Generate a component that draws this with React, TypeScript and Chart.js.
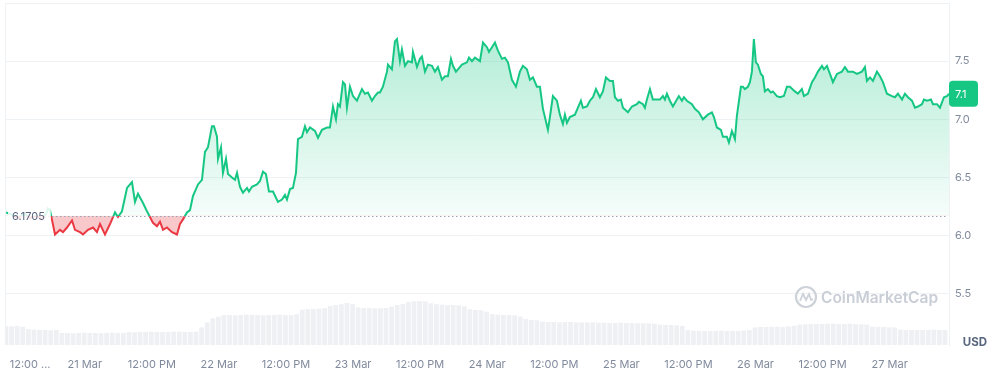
import React, { useEffect, useRef } from 'react';
import { Chart, registerables } from 'chart.js';
Chart.register(...registerables);

// ---- data ----
const basePrice = 6.1705;
const lastPriceLabel = '7.1';
const currency = 'USD';
const watermark = 'CoinMarketCap';

// hours since start of the 7-day window (20 Mar ~09:55)
const hoursSinceStart = [
  0, 1.07, 2.15, 3.22, 4.29, 5.37, 6.44, 7.16, 7.51, 7.87,
  8.77, 9.66, 10.2, 10.91, 11.81, 12.34, 13.24, 13.78, 14.67, 15.57,
  16.28, 16.82, 17.71, 18.61, 19.14, 19.5, 20.04, 20.75, 21.65, 22.54,
  23.08, 23.61, 24.51, 25.22, 25.76, 26.3, 27.01, 27.55, 28.09, 28.8,
  29.7, 30.59, 31.13, 31.67, 32.38, 32.92, 33.45, 34.35, 35.06, 35.6,
  36.14, 36.85, 37.21, 37.75, 37.93, 38.47, 38.82, 39.36, 39.72, 40.43,
  40.97, 41.33, 41.86, 42.4, 43.12, 43.47, 44.01, 44.9, 45.44, 45.98,
  46.51, 47.05, 47.77, 48.66, 49.38, 49.91, 50.27, 50.81, 51.34, 51.88,
  52.24, 52.95, 53.49, 53.85, 54.39, 55.28, 55.82, 56.53, 57.43, 57.96,
  58.5, 59.04, 59.39, 59.75, 60.29, 60.65, 61.0, 61.54, 62.08, 62.79,
  63.69, 64.22, 64.76, 65.48, 66.01, 66.55, 66.91, 67.44, 68.16, 68.34,
  69.05, 69.59, 69.95, 70.48, 70.84, 71.38, 71.92, 72.63, 72.81, 73.53,
  74.06, 74.42, 74.96, 75.5, 76.21, 76.75, 77.28, 78.0, 78.54, 79.07,
  79.61, 79.97, 80.5, 80.86, 81.58, 82.47, 82.83, 83.37, 83.9, 84.8,
  85.34, 86.05, 86.41, 86.95, 87.48, 88.02, 88.74, 89.27, 89.81, 90.52,
  91.24, 91.95, 92.49, 93.2, 93.74, 94.28, 94.99, 95.53, 96.07, 96.96,
  97.32, 97.85, 98.57, 99.1, 99.64, 100.0, 100.36, 100.89, 101.79, 102.33,
  102.86, 103.22, 103.94, 104.47, 105.01, 105.55, 106.26, 106.8, 107.34, 108.05,
  108.59, 108.95, 109.49, 110.02, 110.38, 111.27, 111.99, 112.88, 113.24, 113.96,
  114.31, 114.67, 115.21, 115.74, 116.46, 117.0, 117.53, 117.89, 118.25, 118.78,
  119.32, 120.04, 120.39, 120.93, 121.29, 121.82, 122.72, 123.26, 123.97, 124.69,
  125.58, 126.3, 126.66, 127.19, 127.91, 128.27, 128.98, 129.34, 129.88, 130.42,
  130.77, 131.49, 131.85, 132.2, 132.74, 133.1, 133.46, 133.81, 134.17, 134.53,
  135.06, 135.42, 135.78, 136.32, 136.85, 137.21, 137.93, 138.46, 139.18, 139.72,
  140.25, 141.15, 141.69, 142.4, 142.76, 143.48, 144.2, 144.73, 145.27, 145.99,
  146.34, 146.88, 147.42, 147.95, 148.67, 149.56, 150.1, 150.64, 151.53, 152.25,
  153.14, 153.68, 154.04, 154.58, 155.11, 155.83, 156.37, 156.9, 157.62, 158.52,
  159.05, 159.59, 160.31, 160.84, 161.38, 162.09, 162.63, 163.17, 163.88, 164.24,
  164.78, 165.49, 165.85, 166.57, 167.1, 167.82, 168.36, 168.72,
];

const prices = [
  6.20, 6.18, 6.15, 6.19, 6.15, 6.17, 6.14, 6.19, 6.23, 6.22,
  6.01, 6.05, 6.03, 6.07, 6.13, 6.05, 6.03, 6.01, 6.05, 6.07,
  6.03, 6.10, 6.01, 6.10, 6.16, 6.20, 6.16, 6.21, 6.41, 6.46,
  6.29, 6.36, 6.28, 6.21, 6.16, 6.11, 6.08, 6.12, 6.05, 6.07,
  6.03, 6.01, 6.10, 6.14, 6.20, 6.22, 6.34, 6.44, 6.48, 6.72,
  6.76, 6.94, 6.94, 6.85, 6.66, 6.76, 6.54, 6.66, 6.53, 6.50,
  6.48, 6.54, 6.42, 6.37, 6.41, 6.38, 6.42, 6.44, 6.47, 6.55,
  6.53, 6.38, 6.38, 6.29, 6.31, 6.35, 6.31, 6.40, 6.41, 6.54,
  6.83, 6.85, 6.94, 6.89, 6.93, 6.90, 6.84, 6.91, 6.93, 6.93,
  7.11, 7.00, 7.13, 7.11, 7.32, 7.30, 7.10, 7.28, 7.20, 7.16,
  7.26, 7.22, 7.23, 7.16, 7.20, 7.23, 7.23, 7.28, 7.41, 7.47,
  7.43, 7.67, 7.69, 7.50, 7.60, 7.46, 7.50, 7.49, 7.58, 7.45,
  7.52, 7.54, 7.41, 7.47, 7.46, 7.41, 7.45, 7.34, 7.37, 7.37,
  7.52, 7.46, 7.41, 7.43, 7.47, 7.49, 7.53, 7.50, 7.53, 7.50,
  7.66, 7.62, 7.58, 7.62, 7.66, 7.59, 7.52, 7.53, 7.49, 7.34,
  7.28, 7.41, 7.46, 7.43, 7.34, 7.36, 7.28, 7.28, 7.09, 6.91,
  7.02, 7.20, 7.16, 7.04, 6.96, 7.04, 6.97, 7.02, 7.04, 7.10,
  7.16, 7.10, 7.11, 7.16, 7.19, 7.26, 7.19, 7.24, 7.36, 7.33,
  7.33, 7.19, 7.16, 7.17, 7.10, 7.06, 7.11, 7.13, 7.15, 7.13,
  7.10, 7.17, 7.26, 7.17, 7.17, 7.17, 7.20, 7.17, 7.22, 7.16,
  7.11, 7.17, 7.20, 7.16, 7.19, 7.16, 7.13, 7.09, 7.06, 7.00,
  7.04, 7.06, 7.02, 6.93, 6.91, 6.85, 6.85, 6.80, 6.90, 6.83,
  7.03, 7.28, 7.28, 7.26, 7.28, 7.32, 7.41, 7.69, 7.49, 7.47,
  7.39, 7.37, 7.24, 7.26, 7.23, 7.24, 7.20, 7.19, 7.20, 7.28,
  7.28, 7.24, 7.22, 7.26, 7.20, 7.22, 7.32, 7.36, 7.41, 7.46,
  7.43, 7.46, 7.39, 7.32, 7.39, 7.41, 7.45, 7.41, 7.41, 7.39,
  7.41, 7.45, 7.33, 7.36, 7.33, 7.41, 7.37, 7.32, 7.22, 7.20,
  7.19, 7.22, 7.17, 7.22, 7.19, 7.16, 7.10, 7.11, 7.13, 7.17,
  7.16, 7.17, 7.13, 7.13, 7.10, 7.19, 7.20, 7.22,
];

// hourly volume (million USD), one value per hour from hour 0
const hourlyVolume = [
  114, 112, 115, 110,
  95, 92, 90, 90, 88, 90,
  72, 72, 70, 72, 74, 72, 72, 70, 72, 74, 72, 72,
  78, 76, 78, 78, 80, 78, 78, 78, 80, 80, 78, 78, 80,
  105, 135,
  160, 170,
  180, 180, 178, 180, 182, 180, 180, 178, 180, 180, 182, 180, 180, 184,
  212, 215, 216, 218, 220,
  235, 240, 245, 252, 245,
  225, 222, 222, 220, 220, 222, 230,
  240, 245,
  258, 262, 264, 262,
  250, 245, 242, 240, 240, 238, 232,
  215, 210, 208, 200,
  185, 182, 180, 180, 178, 170,
  155, 150, 148,
  140, 138, 138, 136, 138, 138, 136, 136, 135, 136,
  134, 134, 132, 132, 134, 132, 132, 130, 130, 130, 128,
  122, 120, 120, 118, 115,
  90, 86, 84, 84, 84, 84, 86, 84, 84, 84, 86, 90,
  105, 108, 108, 110, 110, 108, 112, 115,
  122, 124, 125, 126, 126, 128, 128, 126, 126, 128, 125, 124, 122,
  110, 108, 108, 106, 105,
  92, 90, 90, 90, 90, 90, 92, 90, 90,
];

const xTickHours = [2.1, 14.1, 26.1, 38.1, 50.1, 62.1, 74.1, 86.1, 98.1, 110.1, 122.1, 134.1, 146.1, 158.1];
const xTickLabels = [
  '        12:00 ...', '21 Mar', '12:00 PM', '22 Mar', '12:00 PM', '23 Mar', '12:00 PM',
  '24 Mar', '12:00 PM', '25 Mar', '12:00 PM', '26 Mar', '12:00 PM', '27 Mar',
];
const yTicks = [5.5, 6.0, 6.5, 7.0, 7.5];
const yMin = 5.06;
const yMax = 8.0;
const volumeAxisMax = 2050;

const GREEN = '#16c784';
const RED = '#ea3943';
const GRID = '#eff2f5';
const FONT = "Inter, 'Noto Sans', sans-serif";

export default function App() {
  const ref = useRef<HTMLCanvasElement | null>(null);

  useEffect(() => {
    document.body.style.margin = '0';
    const canvas = ref.current;
    if (!canvas) return;
    Chart.defaults.font.family = FONT;

    const priceData = hoursSinceStart.map((h, i) => ({ x: h, y: prices[i] }));
    const volData = hourlyVolume.map((v, i) => ({ x: i, y: v }));

    const lineColor = (ctx: any) => {
      const chart = ctx.chart;
      const area = chart.chartArea;
      if (!area || !chart.scales.y) return GREEN;
      const yb = chart.scales.y.getPixelForValue(basePrice);
      const f = Math.min(1, Math.max(0, (yb - area.top) / (area.bottom - area.top)));
      const g = chart.ctx.createLinearGradient(0, area.top, 0, area.bottom);
      g.addColorStop(0, GREEN);
      g.addColorStop(f, GREEN);
      g.addColorStop(f, RED);
      g.addColorStop(1, RED);
      return g;
    };

    const fillOpt = (ctx: any) => {
      const chart = ctx.chart;
      const area = chart.chartArea;
      let above: any = 'rgba(22,199,132,0.15)';
      if (area && chart.scales.y) {
        const yTop = chart.scales.y.getPixelForValue(7.7);
        const yb = chart.scales.y.getPixelForValue(basePrice);
        const g = chart.ctx.createLinearGradient(0, yTop, 0, yb);
        g.addColorStop(0, 'rgba(22,199,132,0.32)');
        g.addColorStop(1, 'rgba(22,199,132,0.04)');
        above = g;
      }
      return { target: { value: basePrice }, above, below: 'rgba(234,57,67,0.28)' };
    };

    const deco = {
      id: 'deco',
      beforeDatasetsDraw(chart: any) {
        const c = chart.ctx;
        const a = chart.chartArea;
        c.save();
        c.strokeStyle = GRID;
        c.lineWidth = 1;
        c.beginPath();
        c.moveTo(a.left - 0.5, a.bottom);
        c.lineTo(a.left - 0.5, a.top + 0.5);
        c.lineTo(a.right, a.top + 0.5);
        c.stroke();
        // watermark
        const cx = a.right - 143;
        const cy = a.bottom - 48;
        c.strokeStyle = '#cdd2d9';
        c.lineWidth = 2.2;
        c.beginPath();
        c.arc(cx, cy, 10, 0, Math.PI * 2);
        c.stroke();
        c.lineWidth = 1.8;
        c.beginPath();
        c.moveTo(cx - 6, cy + 4);
        c.lineTo(cx - 3, cy - 3);
        c.lineTo(cx, cy + 3);
        c.lineTo(cx + 3, cy - 3);
        c.lineTo(cx + 5, cy + 3);
        c.lineTo(cx + 7, cy + 2);
        c.stroke();
        c.fillStyle = '#c9ced6';
        c.font = `600 15.5px ${FONT}`;
        c.textAlign = 'left';
        c.textBaseline = 'middle';
        c.fillText(watermark, cx + 15, cy + 1);
        c.restore();
      },
      afterDatasetsDraw(chart: any) {
        const c = chart.ctx;
        const a = chart.chartArea;
        const y = chart.scales.y;
        const yb = Math.round(y.getPixelForValue(basePrice)) + 0.5;
        c.save();
        // dotted baseline
        c.strokeStyle = '#9aa3b2';
        c.lineWidth = 1;
        c.setLineDash([1.5, 2.5]);
        c.beginPath();
        c.moveTo(a.left + 42, yb);
        c.lineTo(a.right - 1, yb);
        c.stroke();
        c.setLineDash([]);
        // base label
        c.font = `11px ${FONT}`;
        const t = basePrice.toFixed(4);
        const w = c.measureText(t).width;
        c.fillStyle = 'rgba(255,255,255,0.85)';
        c.fillRect(a.left + 2, yb - 9, w + 10, 18);
        c.fillStyle = '#58667e';
        c.textAlign = 'left';
        c.textBaseline = 'middle';
        c.fillText(t, a.left + 6, yb + 0.5);
        c.restore();
      },
      afterDraw(chart: any) {
        const c = chart.ctx;
        const a = chart.chartArea;
        const y = chart.scales.y;
        const last = prices[prices.length - 1];
        const py = y.getPixelForValue(last);
        c.save();
        c.fillStyle = GREEN;
        c.beginPath();
        (c as any).roundRect(a.right, py - 13, 29, 26, 4);
        c.fill();
        c.fillStyle = '#ffffff';
        c.font = `11px ${FONT}`;
        c.textAlign = 'left';
        c.textBaseline = 'middle';
        c.fillText(lastPriceLabel, a.right + 6, py + 0.5);
        c.fillStyle = '#58667e';
        c.font = `bold 11.5px ${FONT}`;
        c.textAlign = 'right';
        c.fillText(currency, chart.width - 6, a.bottom - 2);
        c.restore();
      },
    };

    const chart = new Chart(canvas, {
      type: 'line',
      data: {
        datasets: [
          {
            type: 'line',
            data: priceData as any,
            xAxisID: 'x',
            yAxisID: 'y',
            borderColor: lineColor as any,
            borderWidth: 2,
            pointRadius: 0,
            tension: 0,
            fill: fillOpt as any,
            order: 1,
          },
          {
            type: 'bar',
            data: volData as any,
            xAxisID: 'x',
            yAxisID: 'yv',
            backgroundColor: '#eef0f4',
            borderWidth: 0,
            barPercentage: 1,
            categoryPercentage: 0.85,
            order: 2,
          } as any,
        ],
      },
      options: {
        responsive: false,
        animation: false,
        devicePixelRatio: 1,
        layout: { padding: { left: 6, top: 3, right: 0, bottom: 0 } },
        plugins: { legend: { display: false }, tooltip: { enabled: false } },
        scales: {
          x: {
            type: 'linear',
            min: 0,
            max: hoursSinceStart[hoursSinceStart.length - 1],
            offset: false,
            grid: { display: false },
            border: { display: false },
            afterBuildTicks: (s: any) => {
              s.ticks = xTickHours.map((v) => ({ value: v }));
            },
            afterFit: (s: any) => {
              s.height = 26;
              s.paddingLeft = 0;
              s.paddingRight = 0;
            },
            ticks: {
              autoSkip: false,
              maxRotation: 0,
              padding: 5,
              color: '#808a9d',
              font: { size: 11, family: FONT },
              callback: (_v: any, i: number) => xTickLabels[i],
            },
          },
          y: {
            type: 'linear',
            position: 'right',
            min: yMin,
            max: yMax,
            grid: { color: GRID, drawTicks: false },
            border: { display: true, color: GRID },
            afterBuildTicks: (s: any) => {
              s.ticks = yTicks.map((v) => ({ value: v }));
            },
            afterFit: (s: any) => {
              s.width = 44;
              s.paddingTop = 0;
              s.paddingBottom = 0;
            },
            ticks: {
              padding: 6,
              color: '#808a9d',
              font: { size: 11, family: FONT },
              callback: (v: any) => Number(v).toFixed(1),
            },
          },
          yv: {
            type: 'linear',
            display: false,
            min: 0,
            max: volumeAxisMax,
          },
        },
      } as any,
      plugins: [deco],
    });

    return () => chart.destroy();
  }, []);

  return (
    <div style={{ width: 993, height: 371 }}>
      <canvas ref={ref} width={993} height={371} />
    </div>
  );
}
